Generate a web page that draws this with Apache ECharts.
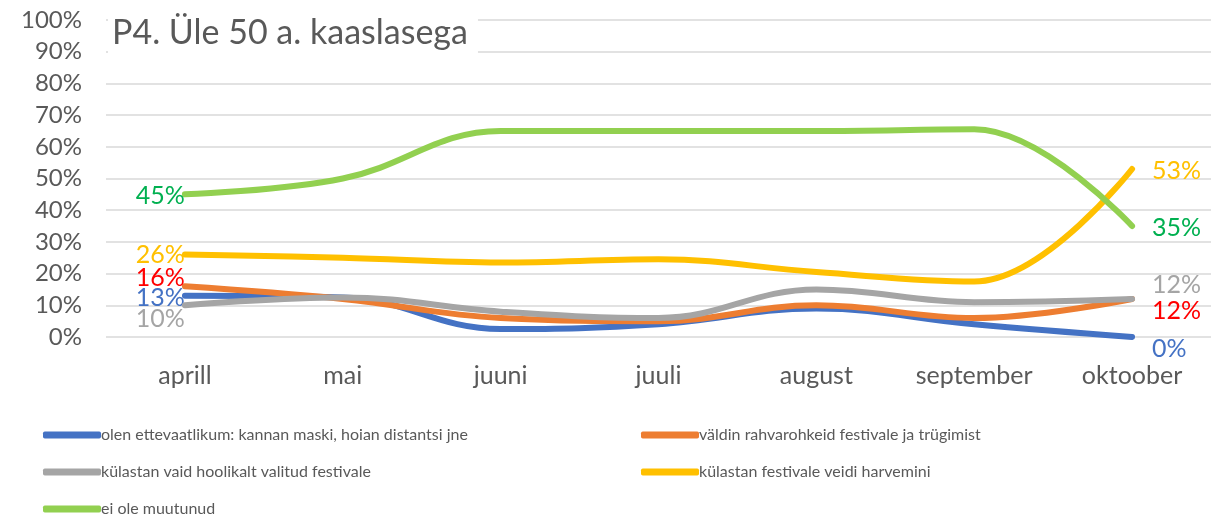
<!DOCTYPE html>
<html>
<head>
<meta charset="utf-8">
<script src="https://cdn.jsdelivr.net/npm/echarts@6/dist/echarts.min.js"></script>
<style>
  html, body { margin: 0; padding: 0; background: #fff; }
  #chart { width: 1211px; height: 521px; }
</style>
</head>
<body>
<div id="chart"></div>
<script>
const categories = ['aprill', 'mai', 'juuni', 'juuli', 'august', 'september', 'oktoober']
const seriesNames = [
  'olen ettevaatlikum: kannan maski, hoian distantsi jne',
  'väldin rahvarohkeid festivale ja trügimist',
  'külastan vaid hoolikalt valitud festivale',
  'külastan festivale veidi harvemini',
  'ei ole muutunud'
]
const careful = [13, 12.5, 2.5, 4, 9, 4, 0]
const avoidCrowds = [16, 12, 6, 5, 10, 6, 12]
const selective = [10, 12.5, 8, 6, 15, 11, 12]
const lessOften = [26, 25, 23.5, 24.5, 20.5, 17.5, 53]
const unchanged = [45, 50, 65, 65, 65, 65.5, 35]
const yTicks = [0, 10, 20, 30, 40, 50, 60, 70, 80, 90, 100]

const font = 'Lato, "Noto Sans", sans-serif'
const lineColors = ['#4472C4', '#ED7D31', '#A5A5A5', '#FFC000', '#92D050']
const labelColors = ['#4472C4', '#FF0000', '#A5A5A5', '#FFC000', '#00B050']
// label offsets [first point, last point] in px
const labelOffsets = [
  [[0, 2], [0, 12]],
  [[0, -8], [0, 12]],
  [[0, 14], [0, -14]],
  [[0, 0], [0, 2]],
  [[0, 2], [0, 2]]
]
const allData = [careful, avoidCrowds, selective, lessOften, unchanged]

const chart = echarts.init(document.getElementById('chart'))

const series = allData.map((data, i) => ({
  name: seriesNames[i],
  type: 'line',
  smooth: 0.4,
  symbol: 'circle',
  symbolSize: 0.1,
  showSymbol: true,
  showAllSymbol: true,
  data: data.map((v, j) => {
    const item = { value: v }
    if (j === 0 || j === data.length - 1) {
      const first = j === 0
      item.label = {
        show: true,
        position: first ? 'left' : 'right',
        distance: first ? 0 : 20,
        offset: labelOffsets[i][first ? 0 : 1],
        formatter: p => Math.round(p.value) + '%',
        color: labelColors[i],
        fontSize: 25,
        fontFamily: font
      }
    }
    return item
  }),
  lineStyle: { width: 6, color: lineColors[i], cap: 'round' },
  itemStyle: { color: lineColors[i] },
  emphasis: { disabled: true },
  z: 2 + i
}))

const legendCommon = {
  orient: 'vertical',
  icon: 'roundRect',
  itemWidth: 58,
  itemHeight: 7,
  itemGap: 17,
  height: 140,
  textStyle: { fontSize: 16, lineHeight: 20, color: '#595959', fontFamily: font, padding: [0, 0, 0, -5] }
}

chart.setOption({
  animation: false,
  backgroundColor: '#fff',
  title: {
    text: 'P4. Üle 50 a. kaaslasega',
    left: 108,
    top: 10,
    padding: [6, 10, 8, 4],
    backgroundColor: '#fff',
    textStyle: { fontSize: 34, fontWeight: 'normal', color: '#595959', fontFamily: font }
  },
  grid: { left: 106, right: 0, top: 20, bottom: 184 },
  xAxis: {
    type: 'category',
    data: categories,
    boundaryGap: true,
    axisLine: { show: false },
    axisTick: { show: false },
    axisLabel: { fontSize: 25, color: '#595959', fontFamily: font, margin: 26, interval: 0 }
  },
  yAxis: {
    type: 'value',
    min: yTicks[0],
    max: yTicks[yTicks.length - 1],
    interval: 10,
    axisLine: { show: false },
    axisTick: { show: false },
    axisLabel: { fontSize: 24, color: '#595959', fontFamily: font, margin: 24, formatter: v => v + '%' },
    splitLine: { lineStyle: { color: '#D9D9D9', width: 1.5 } }
  },
  legend: [
    Object.assign({}, legendCommon, { left: 38, top: 420, data: [seriesNames[0], seriesNames[2], seriesNames[4]] }),
    Object.assign({}, legendCommon, { left: 636, top: 420, data: [seriesNames[1], seriesNames[3]] })
  ],
  series: series
})
</script>
</body>
</html>
